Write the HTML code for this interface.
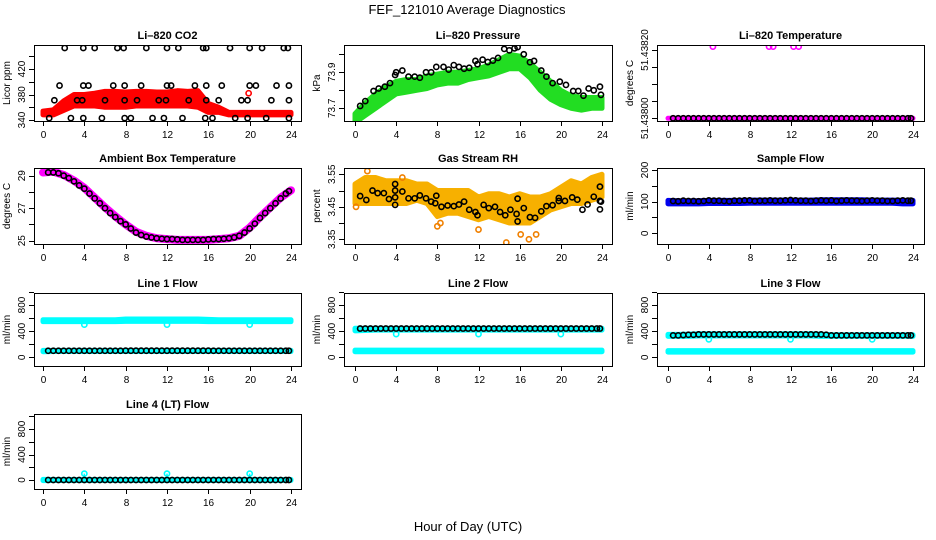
<!DOCTYPE html>
<html><head><meta charset="utf-8"><style>
html,body{margin:0;padding:0;background:#fff;}
svg{display:block;font-family:"Liberation Sans",sans-serif;}
</style></head><body>
<svg id="chart" width="936" height="540" viewBox="0 0 936 540" xmlns="http://www.w3.org/2000/svg">
<text x="467" y="14" text-anchor="middle" font-size="13">FEF_121010  Average Diagnostics</text>
<text x="468" y="531" text-anchor="middle" font-size="13">Hour of Day (UTC)</text>
</svg>
<script>
const H = [0.5,1,1.5,2,2.5,3,3.5,4,4.5,5,5.5,6,6.5,7,7.5,8,8.5,9,9.5,10,10.5,11,11.5,12,12.5,13,13.5,14,14.5,15,15.5,16,16.5,17,17.5,18,18.5,19,19.5,20,20.5,21,21.5,22,22.5,23,23.5,23.8];
const BH = [0,1,2,3,4,5,6,7,8,9,10,11,12,13,14,15,16,17,18,19,20,21,22,23,24];
const xTicks = [0,4,8,12,16,20,24];

// CO2
const coHours = [2.1,3.9,5,7.2,7.8,10,12,13.1,15.5,15.8,18.1,20,21.2,23.3,23.7, 1.6,3.9,4.4,6.8,7.9,9.5,12,12.4,14.7,15.8,17.3,20,20.6,22.6,23.8, 1.1,3.3,3.8,6,7.9,9.1,11.2,11.9,14.1,15.8,17,19.2,19.8,22.1,23.8, 0.6,2.7,3.9,5.7,7.9,8.5,10.6,11.7,13.5,15.7,16.4,18.6,19.8,21.6,23.8];
const coVals = [453,453,453,453,453,453,453,453,453,453,453,453,453,453,453, 394,394,394,394,394,394,394,394,394,394,394,394,394,394,394, 371,371,371,371,371,371,371,371,371,371,371,371,371,371,371, 343,343,343,343,343,343,343,343,343,343,343,343,343,343,343];
const coLow = [348,348,355,362,362,362,360,360,360,362,362,362,362,362,362,360,352,352,348,348,348,348,348,348,348];
const coHigh = [354,356,370,380,380,382,385,385,384,385,385,384,384,386,385,386,366,360,352,352,352,352,352,352,352];

// Pressure
const prHours = [0.5,1,1.8,2.3,2.9,3.4,3.9,4,4.6,5.2,5.8,6.3,6.9,7.4,7.9,8.6,9.1,9.6,10.1,10.6,11.1,11.7,11.9,12.4,12.9,13.4,13.9,14.5,15,15.5,15.8,16.4,17,17.4,18.1,18.6,19.2,19.9,20.5,21.2,21.7,22.2,22.7,23.2,23.8,23.9];
const prVals = [73.713,73.74,73.796,73.81,73.82,73.84,73.885,73.9,73.91,73.876,73.876,73.87,73.9,73.9,73.93,73.93,73.915,73.94,73.93,73.92,73.925,73.963,73.945,73.97,73.957,73.965,73.98,74.03,74.022,74.033,74.04,74.0,73.956,73.963,73.91,73.876,73.84,73.848,73.83,73.796,73.796,73.77,73.81,73.8,73.82,73.775];
const prLow = [73.62,73.66,73.70,73.74,73.78,73.79,73.80,73.81,73.83,73.84,73.84,73.86,73.87,73.88,73.90,73.92,73.92,73.87,73.80,73.75,73.72,73.70,73.69,73.70,73.70];
const prHigh = [73.67,73.73,73.78,73.82,73.85,73.86,73.86,73.88,73.89,73.90,73.90,73.91,73.92,73.94,73.97,74.00,73.99,73.95,73.90,73.85,73.80,73.77,73.76,73.76,73.76];

// Li-820 temperature
const ltVals = [51.438,51.438,51.438,51.438,51.438,51.438,51.438,51.438,51.438,51.438,51.438,51.438,51.438,51.438,51.438,51.438,51.438,51.438,51.438,51.438,51.438,51.438,51.438,51.438,51.438,51.438,51.438,51.438,51.438,51.438,51.438,51.438,51.438,51.438,51.438,51.438,51.438,51.438,51.438,51.438,51.438,51.438,51.438,51.438,51.438,51.438,51.438,51.438];
const ltOutHours = [4.4,9.9,10.3,12.3,12.8];
const ltOutVals = [51.43821,51.43821,51.43821,51.43821,51.43821];
const ltBand = [51.438,51.438,51.438,51.438,51.438,51.438,51.438,51.438,51.438,51.438,51.438,51.438,51.438,51.438,51.438,51.438,51.438,51.438,51.438,51.438,51.438,51.438,51.438,51.438,51.438];

// Ambient
const ambVals = [29.2,29.2,29.15,29.0,28.85,28.65,28.4,28.2,27.9,27.6,27.3,27.0,26.7,26.45,26.2,26.0,25.75,25.5,25.35,25.25,25.2,25.15,25.12,25.1,25.1,25.08,25.05,25.05,25.05,25.05,25.05,25.08,25.1,25.1,25.12,25.15,25.2,25.3,25.5,25.75,26.05,26.4,26.7,27.0,27.3,27.6,27.9,28.05];
const ambMag = [29.2,29.25,29.05,28.7,28.25,27.65,27.05,26.5,26.0,25.55,25.3,25.15,25.1,25.05,25.05,25.05,25.05,25.1,25.15,25.3,25.8,26.45,27.05,27.65,28.1];

// RH
const rhHours = [0.5,1.1,1.7,2.2,2.8,3.3,3.9,3.9,3.9,3.9,4.6,5.2,5.8,6.3,6.9,7.4,7.8,7.9,8.4,9,9.6,10.1,10.6,11.1,11.7,11.9,12.5,13,13.6,14.1,14.6,15.1,15.7,15.8,15.8,16.4,17,17.5,18.1,18.6,19.2,19.8,19.8,20.4,21.1,21.6,22.1,22.6,23.2,23.8,23.8,23.8,23.9];
const rhVals = [3.483,3.471,3.50,3.492,3.492,3.474,3.52,3.50,3.479,3.456,3.497,3.476,3.476,3.485,3.476,3.466,3.461,3.484,3.45,3.454,3.452,3.457,3.466,3.441,3.434,3.424,3.456,3.446,3.450,3.434,3.424,3.441,3.428,3.475,3.405,3.446,3.418,3.416,3.436,3.452,3.455,3.477,3.468,3.468,3.479,3.472,3.441,3.457,3.481,3.512,3.468,3.442,3.466];
const rhLow = [3.46,3.46,3.46,3.46,3.46,3.46,3.47,3.46,3.42,3.43,3.43,3.42,3.41,3.42,3.41,3.40,3.40,3.40,3.42,3.44,3.45,3.46,3.46,3.47,3.48];
const rhHigh = [3.52,3.54,3.54,3.53,3.53,3.53,3.52,3.52,3.50,3.50,3.50,3.50,3.48,3.49,3.49,3.48,3.49,3.48,3.48,3.49,3.51,3.53,3.52,3.54,3.55];

// Sample flow
const sfVals = [102,101,103,102,102,101,102,104,103,103,102,101,103,103,104,104,102,103,103,104,103,103,104,105,104,103,103,102,103,104,103,104,102,103,104,103,103,102,103,104,103,103,102,102,103,104,103,103];
const sfLow = [93,93,93,93,94,94,94,94,95,95,95,95,95,95,95,95,95,95,95,95,95,95,95,93,93];
const sfHigh = [104,103,103,103,104,104,104,104,105,105,105,105,105,105,105,106,106,106,106,106,105,105,105,104,104];

// Line flows
const l1Black = [100,100,100,100,100,100,100,100,100,100,100,100,100,100,100,101,101,101,101,101,101,101,101,101,101,101,101,101,101,101,101,101,100,100,100,100,100,100,100,100,100,100,100,100,100,100,100,100];
const l1UpLow = [545,545,545,545,545,545,545,545,550,550,550,550,550,550,550,550,545,545,545,545,545,545,545,545,545];
const l1UpHigh = [575,575,575,575,575,575,575,575,585,585,585,585,585,585,585,585,580,575,575,575,575,575,575,575,575];
const l1DipHours = [4,12,20];
const l1DipVals = [500,500,500];
const l1LoLow = [85,88,88,88,88,88,88,88,88,88,88,88,88,88,88,88,88,88,88,88,88,88,88,88,88];
const l1LoHigh = [105,105,105,105,105,105,105,105,105,105,105,105,105,105,105,105,105,105,105,105,105,105,105,105,105];

const l2Black = [440,440,440,440,440,440,440,440,440,440,440,440,440,440,440,440,440,440,440,440,440,440,440,440,440,440,440,440,440,440,440,440,440,440,440,440,440,440,440,440,440,440,440,440,440,440,440,440];
const l2UpLow = [405,410,415,415,415,415,415,415,415,415,415,415,415,415,415,415,415,415,415,415,415,415,415,415,415];
const l2UpHigh = [445,445,445,445,445,445,445,445,445,445,445,445,445,445,445,445,445,445,445,445,445,445,445,445,445];
const l2DipHours = [4,12,20];
const l2DipVals = [355,355,355];
const l2LoLow = [85,85,85,85,85,85,85,85,85,85,85,85,85,85,85,85,85,85,85,85,85,85,85,85,85];
const l2LoHigh = [110,110,110,110,110,110,110,110,110,110,110,110,110,110,110,110,110,110,110,110,110,110,110,110,110];

const l3Black = [335,335,340,345,345,350,350,350,350,350,350,350,350,350,350,350,350,350,350,350,350,350,350,350,350,350,350,350,350,350,345,335,335,335,335,335,335,335,335,335,335,335,335,335,335,335,335,335];
const l3UpLow = [320,320,320,325,325,325,325,325,325,325,325,325,325,325,325,320,320,320,320,320,320,320,320,320,320];
const l3UpHigh = [350,350,355,360,360,360,360,360,360,360,360,360,360,360,360,355,345,345,345,345,345,345,345,345,345];
const l3DipHours = [4,12,20];
const l3DipVals = [275,275,275];
const l3LoLow = [80,80,80,80,80,80,80,80,80,80,80,80,80,80,80,80,80,80,80,80,80,80,80,80,80];
const l3LoHigh = [102,102,102,102,102,102,102,102,102,102,102,102,102,102,102,102,102,102,102,102,102,102,102,102,102];

const l4Black = [0,0,0,0,0,0,0,0,0,0,0,0,0,0,0,0,0,0,0,0,0,0,0,0,0,0,0,0,0,0,0,0,0,0,0,0,0,0,0,0,0,0,0,0,0,0,0,0];
const l4BandLow = [-10,-8,-8,-8,-8,-8,-8,-8,-8,-8,-8,-8,-8,-8,-8,-8,-8,-8,-8,-8,-8,-8,-8,-8,-8];
const l4BandHigh = [10,8,8,8,8,8,8,8,8,8,8,8,8,8,8,8,8,8,8,8,8,8,8,8,8];
const l4PeakHours = [4,12,20];
const l4PeakVals = [100,100,100];

const NS = "http://www.w3.org/2000/svg";
const svg = document.getElementById('chart');
const COLX = [[34,301,43,291],[344,612,355,602],[657,924,668,913]];
const ROWY = [[45,121],[168,244],[293,366],[414,489]];

function mk(tag, attrs, parent){
  const e = document.createElementNS(NS, tag);
  for (const k in attrs) e.setAttribute(k, attrs[k]);
  (parent||svg).appendChild(e);
  return e;
}
function Panel(p){
  const c = COLX[p.col], r = ROWY[p.row];
  p.sx = h => c[2] + h*(c[3]-c[2])/24;
  p.sy = v => p.y1p + (v-p.y1v)*(p.y2p-p.y1p)/(p.y2v-p.y1v);
  const g = mk('g', {});
  
  
  p.g = g;
  const cx = (c[0]+c[1])/2;
  const t = mk('text', {x: cx, y: r[0]-6, 'text-anchor':'middle', 'font-size':'11', 'font-weight':'bold'}, g);
  t.textContent = p.title;
  
  
  const yl = mk('text', {x: c[0]-24, y:(r[0]+r[1])/2, 'text-anchor':'middle', 'font-size':'10', transform:'rotate(-90 '+(c[0]-24)+' '+((r[0]+r[1])/2)+')'}, g);
  yl.textContent = p.ylab;
  
  
  p.plot = mk('g', {}, g);
  
  
  // clip
  const cid = 'clip-' + p.name;
  const cp = mk('clipPath', {id: cid}, g);
  mk('rect', {x:c[0], y:r[0], width:c[1]-c[0], height:r[1]-r[0]}, cp);
  p.plot.setAttribute('clip-path', 'url(#' + cid + ')');
  // box
  const box = mk('rect', {x:c[0]+0.5, y:r[0]+0.5, width:c[1]-c[0], height:r[1]-r[0], fill:'none', stroke:'#000', 'stroke-width':'1'}, g);
  
  
  const xa = mk('g', {}, g);
  
  
  xTicks.forEach(h => {
    const x = Math.round(p.sx(h))+0.5;
    mk('line', {x1:x, x2:x, y1:r[1], y2:r[1]+5, stroke:'#000'}, xa);
    const tl = mk('text', {x:x, y:r[1]+17, 'text-anchor':'middle', 'font-size':'10'}, xa);
    tl.textContent = h;
    
    
  });
  const ya = mk('g', {}, g);
  
  
  p.ticks.forEach(v => {
    const y = Math.round(p.sy(v))+0.5;
    mk('line', {x1:c[0]-5, x2:c[0], y1:y, y2:y, stroke:'#000'}, ya);
  });
  p.labels.forEach((v,i) => {
    const y = p.sy(v), x = c[0]-9;
    const tl = mk('text', {x:x, y:y, 'text-anchor':'middle', 'font-size':'10', transform:'rotate(-90 '+x+' '+y+')'}, ya);
    tl.textContent = p.labelText ? p.labelText[i] : v;
    
    
  });
  return p;
}
function band(p, hours, lo, hi, color, name){
  const pts = hours.map((h,i)=>p.sx(h)+','+p.sy(hi[i])).concat(hours.slice().reverse().map((h,j)=>{const i=hours.length-1-j;return p.sx(h)+','+p.sy(lo[i]);}));
  const e = mk('polygon', {points:pts.join(' '), fill:color, stroke:color, 'stroke-width':'5', 'stroke-linejoin':'round'}, p.plot);
  
  
}
function thickLine(p, hours, vals, color, w, name){
  const e = mk('polyline', {points: hours.map((h,i)=>p.sx(h)+','+p.sy(vals[i])).join(' '), fill:'none', stroke:color, 'stroke-width':w, 'stroke-linecap':'round', 'stroke-linejoin':'round'}, p.plot);
  
  
}
function pts(p, hours, vals, color, name, sw){
  hours.forEach((h,i)=>{
    const e = mk('circle', {cx:p.sx(h), cy:p.sy(vals[i]), r:2.6, fill:'none', stroke:color, 'stroke-width':sw||1.6}, p.plot);
    
    
  });
}
function stems(p, hours, vals, base, color, name){
  hours.forEach((h,i)=>{
    const e = mk('line', {x1:p.sx(h), x2:p.sx(h), y1:p.sy(base), y2:p.sy(vals[i]), stroke:color, 'stroke-width':1.5}, p.plot);
    
    
  });
}

// Row 1
let p = Panel({name:'co2', col:0,row:0,title:'Li\u2013820 CO2', ylab:'Licor ppm', y1v:340,y1p:120,y2v:420,y2p:69, ticks:[340,360,380,400,420,440], labels:[340,380,420]});
band(p, BH, coLow, coHigh, '#ff0000', 'co2-red-band');
pts(p, [19.9], [382], '#ff0000', 'co2-red-point');
pts(p, coHours, coVals, '#000', 'co2-black-point');

p = Panel({name:'pressure', col:1,row:0,title:'Li\u2013820 Pressure', ylab:'kPa', y1v:73.7,y1p:108.3,y2v:73.9,y2p:72.3, ticks:[73.7,73.8,73.9,74.0], labels:[73.7,73.9]});
band(p, BH, prLow, prHigh, '#22dd22', 'pressure-green-band');
pts(p, prHours, prVals, '#000', 'pressure-black-point');

p = Panel({name:'li-temp', col:2,row:0,title:'Li\u2013820 Temperature', ylab:'degrees C', y1v:51.438,y1p:118.3,y2v:51.4382,y2p:50, ticks:[51.438,51.43805,51.4381,51.43815,51.4382], labels:[51.438,51.4382], labelText:['51.43800','51.43820']});
thickLine(p, BH, ltBand, '#ff00ff', 5, 'li-temp-magenta-band');
pts(p, ltOutHours, ltOutVals, '#ff00ff', 'li-temp-magenta-point');
pts(p, H, ltVals, '#000', 'li-temp-black-point');

// Row 2
p = Panel({name:'ambient', col:0,row:1,title:'Ambient Box Temperature', ylab:'degrees C', y1v:25,y1p:240.7,y2v:29,y2p:175.7, ticks:[25,26,27,28,29], labels:[25,27,29]});
thickLine(p, BH, ambMag, '#ff00ff', 8, 'ambient-magenta-band');
pts(p, H, ambVals, '#000', 'ambient-black-point');

p = Panel({name:'rh', col:1,row:1,title:'Gas Stream RH', ylab:'percent', y1v:3.35,y1p:239.3,y2v:3.55,y2p:174.3, ticks:[3.35,3.4,3.45,3.5,3.55], labels:[3.35,3.45,3.55]});
band(p, BH, rhLow, rhHigh, '#f7b000', 'rh-orange-band');
pts(p, [0.1,8,8.3,12,14.7,16.1,16.9,17.6,1.2,4.6], [3.45,3.39,3.40,3.38,3.34,3.365,3.35,3.365,3.56,3.54], '#f08000', 'rh-outlier-point');
pts(p, rhHours, rhVals, '#000', 'rh-black-point');

p = Panel({name:'sample-flow', col:2,row:1,title:'Sample Flow', ylab:'ml/min', y1v:0,y1p:233.3,y2v:200,y2p:170, ticks:[0,50,100,150,200], labels:[0,100,200]});
band(p, BH, sfLow, sfHigh, '#0000ee', 'sample-flow-blue-band');
pts(p, H, sfVals, '#000', 'sample-flow-black-point');

// Row 3
const flowTicks=[0,200,400,600,800,1000], flowLabels=[0,400,800];
p = Panel({name:'line1', col:0,row:2,title:'Line 1 Flow', ylab:'ml/min', y1v:0,y1p:357.3,y2v:800,y2p:305, ticks:flowTicks, labels:flowLabels});
band(p, BH, l1UpLow, l1UpHigh, '#00ffff', 'line1-cyan-upper-band');
pts(p, l1DipHours, l1DipVals, '#00ffff', 'line1-cyan-dip');
band(p, BH, l1LoLow, l1LoHigh, '#00ffff', 'line1-cyan-lower-band');
pts(p, H, l1Black, '#000', 'line1-black-point');

p = Panel({name:'line2', col:1,row:2,title:'Line 2 Flow', ylab:'ml/min', y1v:0,y1p:357.3,y2v:800,y2p:305, ticks:flowTicks, labels:flowLabels});
band(p, BH, l2UpLow, l2UpHigh, '#00ffff', 'line2-cyan-upper-band');
pts(p, l2DipHours, l2DipVals, '#00ffff', 'line2-cyan-dip');
band(p, BH, l2LoLow, l2LoHigh, '#00ffff', 'line2-cyan-lower-band');
pts(p, H, l2Black, '#000', 'line2-black-point');

p = Panel({name:'line3', col:2,row:2,title:'Line 3 Flow', ylab:'ml/min', y1v:0,y1p:357.3,y2v:800,y2p:305, ticks:flowTicks, labels:flowLabels});
band(p, BH, l3UpLow, l3UpHigh, '#00ffff', 'line3-cyan-upper-band');
pts(p, l3DipHours, l3DipVals, '#00ffff', 'line3-cyan-dip');
band(p, BH, l3LoLow, l3LoHigh, '#00ffff', 'line3-cyan-lower-band');
pts(p, H, l3Black, '#000', 'line3-black-point');

// Row 4
p = Panel({name:'line4', col:0,row:3,title:'Line 4 (LT) Flow', ylab:'ml/min', y1v:0,y1p:480,y2v:800,y2p:429, ticks:flowTicks, labels:flowLabels});
band(p, BH, l4BandLow, l4BandHigh, '#00ffff', 'line4-cyan-band');
stems(p, l4PeakHours, l4PeakVals, 0, '#00ffff', 'line4-cyan-stem');
pts(p, l4PeakHours, l4PeakVals, '#00ffff', 'line4-cyan-peak');
pts(p, H, l4Black, '#000', 'line4-black-point');
</script>
</body></html>
